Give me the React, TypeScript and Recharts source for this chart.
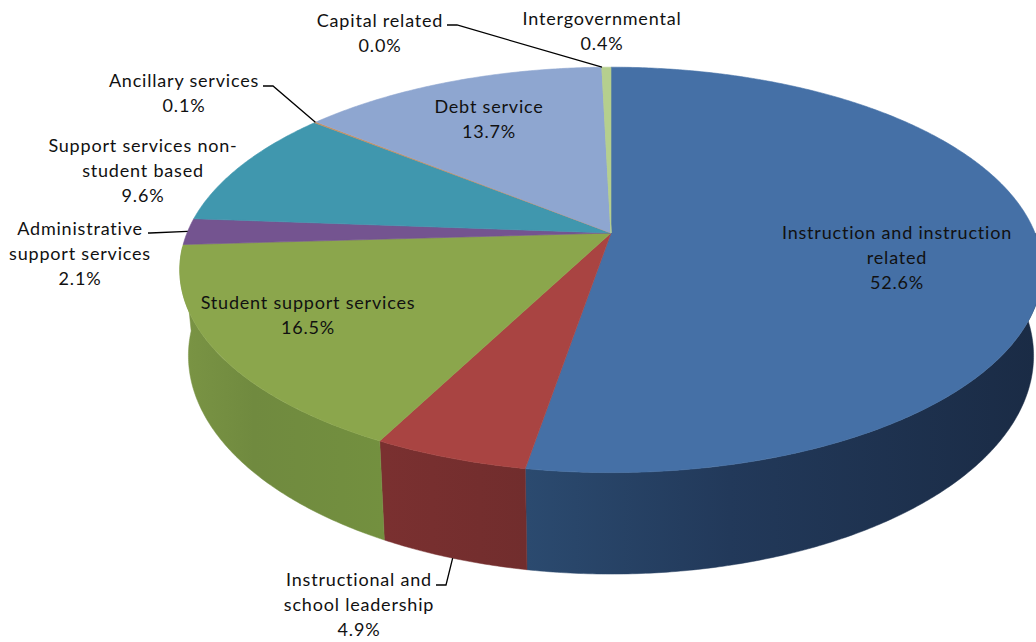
import React from 'react';
import { PieChart, Pie } from 'recharts';

const categories = [
  'Instruction and instruction related',
  'Instructional and school leadership',
  'Student support services',
  'Administrative support services',
  'Support services non-student based',
  'Ancillary services',
  'Debt service',
  'Capital related',
  'Intergovernmental',
];
const shares = [52.6, 4.9, 16.5, 2.1, 9.6, 0.1, 13.7, 0.0, 0.4];
const topColors = ['#4570a6', '#a94442', '#8ba64c', '#745490', '#4097ae', '#c98f5e', '#8ea6d0', '#b9cd96', '#b5cf8e'];

const labelLines = [
  ['Instruction and instruction', 'related'],
  ['Instructional and', 'school leadership'],
  ['Student support services'],
  ['Administrative', 'support services'],
  ['Support services non-', 'student based'],
  ['Ancillary services'],
  ['Debt service'],
  ['Capital related'],
  ['Intergovernmental'],
];

const rows = categories.map((name, i) => ({ name, value: shares[i] }));

// label block centre x and first baseline, per slice
const labelSpots = [
  [897, 239], [359, 586], [308, 309], [80, 235], [143, 152], [184, 87], [489, 113], [380, 27], [602, 25],
];
// leader elbows; the far end is worked out from the slice's mid angle
const leaders: Record<number, { from: [number, number]; knee: [number, number]; onWall?: boolean }> = {
  1: { from: [436, 585], knee: [446, 585], onWall: true },
  3: { from: [148, 233], knee: [150, 233] },
  5: { from: [263, 86], knee: [273, 86] },
  7: { from: [447, 25], knee: [457, 25] },
};

const CX = 611;
const CY = 233;
const RADIUS = 424;
const TILT = 196;
const PERSPECTIVE = 0.182;
const DEPTH = 83;
const FLOOR_SCALE = 0.98;
const LINE_GAP = 25.2;

const rad = (deg: number) => (deg * Math.PI) / 180;

// tilted disc with a little perspective: the near edge is drawn larger
function topPoint(deg: number): [number, number] {
  const u = Math.cos(rad(deg));
  const v = Math.sin(rad(deg));
  const w = 1 + PERSPECTIVE * v;
  return [CX + (RADIUS * u) / w, CY - (TILT * v) / w];
}

function floorPoint(deg: number): [number, number] {
  const [x, y] = topPoint(deg);
  const w = 1 + PERSPECTIVE * Math.sin(rad(deg));
  return [CX + (x - CX) * FLOOR_SCALE, y + DEPTH / w];
}

function arc(from: number, to: number, at: (d: number) => [number, number]) {
  const pts: string[] = [];
  const steps = Math.max(1, Math.ceil(Math.abs(to - from) * 2));
  for (let i = 0; i <= steps; i++) {
    const [x, y] = at(from + ((to - from) * i) / steps);
    pts.push(`${x.toFixed(2)} ${y.toFixed(2)}`);
  }
  return pts;
}

function TopSlice(props: any) {
  const { startAngle, endAngle, fill } = props;
  const d = `M${CX} ${CY} L${arc(startAngle, endAngle, topPoint).join(' L')} Z`;
  return <path d={d} fill={fill} stroke={fill} strokeWidth={0.6} />;
}

// Only the front of the rim is drawn, from the left shoulder round to the right edge
function WallSlice(props: any) {
  const { startAngle, endAngle, fill } = props;
  // recharts runs clockwise from +90 down to -270
  const hi = Math.min(Math.max(startAngle, endAngle), 0);
  const lo = Math.max(Math.min(startAngle, endAngle), -176);
  if (hi <= lo) return null;
  const top = arc(hi, lo, topPoint);
  const bottom = arc(lo, hi, floorPoint);
  const d = `M${[...top, ...bottom].join(' L')} Z`;
  return <path d={d} fill={fill} stroke={fill} strokeWidth={0.5} />;
}

function renderLabel(props: any) {
  const { index, midAngle } = props;
  const [x, y] = labelSpots[index];
  const lines = [...labelLines[index], `${shares[index].toFixed(1)}%`];
  const lead = leaders[index];
  let leader = null;
  if (lead) {
    const tip = lead.onWall ? floorPoint(midAngle) : topPoint(midAngle);
    leader = (
      <polyline
        points={`${lead.from.join(',')} ${lead.knee.join(',')} ${tip.join(',')}`}
        fill="none"
        stroke="#000"
        strokeWidth={1.3}
      />
    );
  }
  return (
    <g>
      {leader}
      <text textAnchor="middle" fontFamily="Lato" fontSize={18} letterSpacing={0.8} fill="#111">
        {lines.map((line, i) => (
          <tspan key={i} x={x} y={y + i * LINE_GAP}>
            {line}
          </tspan>
        ))}
      </text>
    </g>
  );
}

export default function App() {
  return (
    <div style={{ position: 'absolute', left: 0, top: 0, width: 1036, height: 642, overflow: 'hidden', background: '#fff' }}>
      <PieChart width={1036} height={642} margin={{ top: 0, right: 0, bottom: 0, left: 0 }}>
        <defs>
          <linearGradient id="wall-blue" gradientUnits="userSpaceOnUse" x1={527} x2={1036} y1={0} y2={0}>
            <stop offset="0%" stopColor="#2b4a6f" />
            <stop offset="40%" stopColor="#22395a" />
            <stop offset="100%" stopColor="#1a2b45" />
          </linearGradient>
          <linearGradient id="wall-red" gradientUnits="userSpaceOnUse" x1={385} x2={527} y1={0} y2={0}>
            <stop offset="0%" stopColor="#7a3030" />
            <stop offset="100%" stopColor="#712d2d" />
          </linearGradient>
          <linearGradient id="wall-green" gradientUnits="userSpaceOnUse" x1={183} x2={385} y1={0} y2={0}>
            <stop offset="0%" stopColor="#7a9444" />
            <stop offset="35%" stopColor="#708a3f" />
            <stop offset="100%" stopColor="#73903f" />
          </linearGradient>
        </defs>
        <Pie
          data={rows.map((r, i) => ({
            ...r,
            fill: i === 0 ? 'url(#wall-blue)' : i === 1 ? 'url(#wall-red)' : i === 2 ? 'url(#wall-green)' : '#666',
          }))}
          dataKey="value"
          cx={CX}
          cy={CY}
          outerRadius={RADIUS}
          startAngle={90}
          endAngle={-270}
          stroke="none"
          shape={WallSlice}
          isAnimationActive={false}
        />
        <Pie
          data={rows.map((r, i) => ({ ...r, fill: topColors[i] }))}
          dataKey="value"
          cx={CX}
          cy={CY}
          outerRadius={RADIUS}
          startAngle={90}
          endAngle={-270}
          stroke="none"
          shape={TopSlice}
          label={renderLabel}
          labelLine={false}
          isAnimationActive={false}
        />
      </PieChart>
    </div>
  );
}
